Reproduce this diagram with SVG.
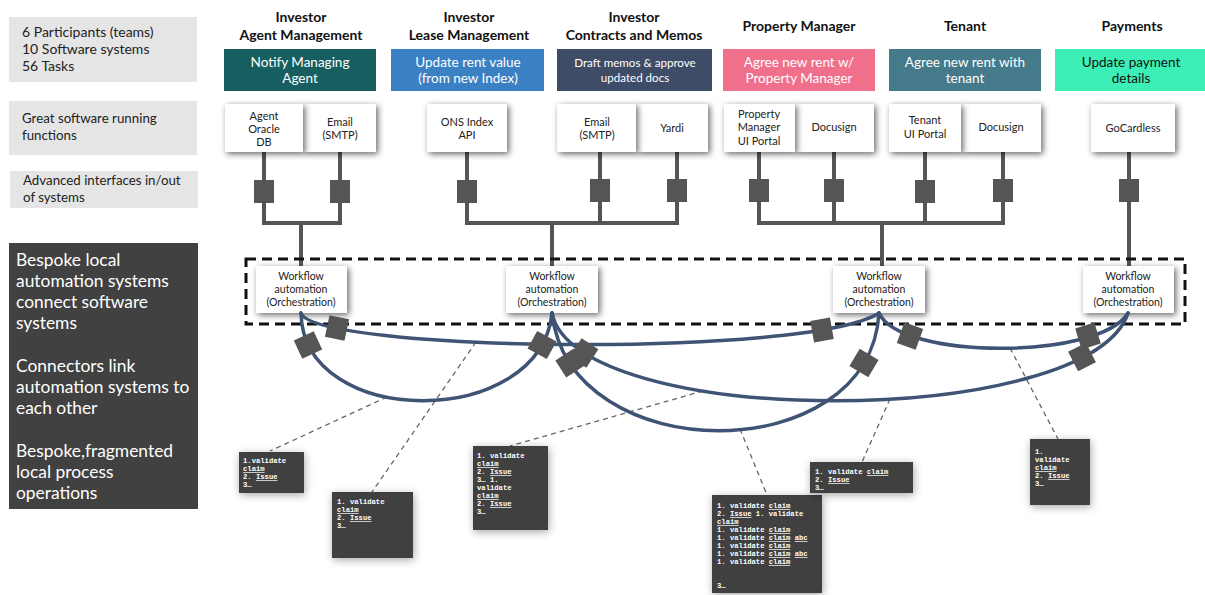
<svg xmlns="http://www.w3.org/2000/svg" width="1205" height="595" viewBox="0 0 1205 595">
  <style>
    .head { font-family: Lato, "Liberation Sans", sans-serif; font-weight: bold; font-size: 14px; fill: #111; text-anchor: middle; }
    .task { font-family: Lato, "Liberation Sans", sans-serif; font-size: 13.5px; fill: #fff; text-anchor: middle; }
    .sw { font-family: Lato, "Liberation Sans", sans-serif; font-size: 11px; fill: #222; text-anchor: middle; }
    .wf { font-family: Lato, "Liberation Sans", sans-serif; font-size: 10.5px; fill: #222; text-anchor: middle; }
    .side { font-family: Lato, "Liberation Sans", sans-serif; font-size: 13.3px; fill: #222; }
    .dark { font-family: Lato, "Liberation Sans", sans-serif; font-size: 17.4px; fill: #fff; }
    .note { font-family: "Liberation Mono", "DejaVu Sans Mono", monospace; font-size: 7.2px; fill: #fff; font-weight: bold; }
    .u { text-decoration: underline; }
    .swbox { fill: #fff; filter: url(#shadow); }
    .pipe { fill: none; stroke: #555; stroke-width: 4; }
    .link { fill: none; stroke: #3f5475; stroke-width: 3.5; stroke-linecap: round; }
    .call { fill: none; stroke: #666; stroke-width: 1.3; stroke-dasharray: 5 4; }
    .notebox { fill: #414141; filter: url(#glow); }
  </style>
  <defs>
    <filter id="shadow" x="-20%" y="-20%" width="150%" height="150%">
      <feDropShadow dx="2" dy="2" stdDeviation="3.2" flood-color="#000" flood-opacity="0.6"/>
    </filter>
    <filter id="glow" x="-30%" y="-30%" width="160%" height="160%">
      <feDropShadow dx="1" dy="2" stdDeviation="4" flood-color="#000" flood-opacity="0.35"/>
    </filter>
    <rect id="plug" x="-10" y="-11" width="20" height="22" fill="#555"/>
    <rect id="vplug" x="-10" y="-12" width="20" height="23" fill="#555"/>
  </defs>

  <!-- left legend column -->
  <g id="legend-counts">
    <rect x="9" y="17" width="188" height="65" fill="#e5e5e5"/>
    <text class="side" x="22" y="37" style="font-size:14px">6 Participants (teams)</text>
    <text class="side" x="22" y="54" style="font-size:14px">10 Software systems</text>
    <text class="side" x="22" y="71" style="font-size:14px">56 Tasks</text>
  </g>
  <g id="legend-software">
    <rect x="9" y="101" width="188" height="54" fill="#e5e5e5"/>
    <text class="side" x="22" y="123">Great software running</text>
    <text class="side" x="22" y="140">functions</text>
  </g>
  <g id="legend-interfaces">
    <rect x="10" y="171" width="188" height="37" fill="#e5e5e5"/>
    <text class="side" x="23" y="185">Advanced interfaces in/out</text>
    <text class="side" x="23" y="202">of systems</text>
  </g>
  <g id="legend-automation">
    <rect x="9" y="243" width="189" height="266" fill="#414141"/>
    <text class="dark" x="16" y="266">Bespoke local</text>
    <text class="dark" x="16" y="287">automation systems</text>
    <text class="dark" x="16" y="308">connect software</text>
    <text class="dark" x="16" y="329">systems</text>
    <text class="dark" x="16" y="372">Connectors link</text>
    <text class="dark" x="16" y="393">automation systems to</text>
    <text class="dark" x="16" y="414">each other</text>
    <text class="dark" x="16" y="457">Bespoke,fragmented</text>
    <text class="dark" x="16" y="478">local process</text>
    <text class="dark" x="16" y="499">operations</text>
  </g>

  <!-- participant headers and tasks -->
  <g id="team-agent">
    <text class="head" x="301" y="22">Investor</text>
    <text class="head" x="301" y="40">Agent Management</text>
    <rect x="224" y="49" width="152" height="42" fill="#175e60"/>
    <text class="task" x="300" y="67">Notify Managing</text>
    <text class="task" x="300" y="83">Agent</text>
  </g>
  <g id="team-lease">
    <text class="head" x="469" y="22">Investor</text>
    <text class="head" x="469" y="40">Lease Management</text>
    <rect x="391" y="49" width="153" height="42" fill="#3b80c3"/>
    <text class="task" x="468" y="67">Update rent value</text>
    <text class="task" x="468" y="83">(from new Index)</text>
  </g>
  <g id="team-contracts">
    <text class="head" x="634" y="22">Investor</text>
    <text class="head" x="634" y="40">Contracts and Memos</text>
    <rect x="557" y="49" width="155" height="42" fill="#3e4c68"/>
    <text class="task" x="635" y="67" style="font-size:11.6px">Draft memos &amp; approve</text>
    <text class="task" x="635" y="82" style="font-size:11.6px">updated docs</text>
  </g>
  <g id="team-property">
    <text class="head" x="799" y="31">Property Manager</text>
    <rect x="723" y="49" width="152" height="42" fill="#f0708c"/>
    <text class="task" x="799" y="67">Agree new rent w/</text>
    <text class="task" x="799" y="83">Property Manager</text>
  </g>
  <g id="team-tenant">
    <text class="head" x="965" y="31">Tenant</text>
    <rect x="889" y="49" width="152" height="42" fill="#447a89"/>
    <text class="task" x="965" y="67">Agree new rent with</text>
    <text class="task" x="965" y="83">tenant</text>
  </g>
  <g id="team-payments">
    <text class="head" x="1132" y="31">Payments</text>
    <rect x="1055" y="49" width="150" height="42" fill="#3cefb6"/>
    <text class="task" x="1131" y="67" style="fill:#111">Update payment</text>
    <text class="task" x="1131" y="83" style="fill:#111">details</text>
  </g>

  <!-- interface pipes: software to automation -->
  <g id="pipes">
    <path class="pipe" d="M264,152 V223 H340 V152 M301,223 V266"/>
    <path class="pipe" d="M467,152 V223 H677 V152 M600,152 V223 M552,223 V266"/>
    <path class="pipe" d="M759,152 V223 H1003 V152 M834,152 V223 M925,152 V223 M882,223 V266"/>
    <path class="pipe" d="M1129,152 V266"/>
    <use href="#vplug" x="264" y="192"/>
    <use href="#vplug" x="340" y="192"/>
    <use href="#vplug" x="467" y="192"/>
    <use href="#vplug" x="600" y="191"/>
    <use href="#vplug" x="677" y="191"/>
    <use href="#vplug" x="759" y="191"/>
    <use href="#vplug" x="834" y="191"/>
    <use href="#vplug" x="925" y="192"/>
    <use href="#vplug" x="1003" y="191"/>
    <use href="#vplug" x="1129" y="191"/>
  </g>

  <!-- software systems -->
  <g id="sw-agent">
    <rect class="swbox" x="303" y="104" width="73" height="48"/>
    <rect class="swbox" x="225" y="104" width="78" height="48"/>
    <text class="sw" x="264" y="120">Agent</text>
    <text class="sw" x="264" y="133">Oracle</text>
    <text class="sw" x="264" y="146">DB</text>
    <text class="sw" x="340" y="126">Email</text>
    <text class="sw" x="340" y="139">(SMTP)</text>
  </g>
  <g id="sw-lease">
    <rect class="swbox" x="427" y="104" width="80" height="48"/>
    <text class="sw" x="467" y="126">ONS Index</text>
    <text class="sw" x="467" y="139">API</text>
  </g>
  <g id="sw-contracts">
    <rect class="swbox" x="636" y="104" width="72" height="48"/>
    <rect class="swbox" x="557" y="104" width="79" height="48"/>
    <text class="sw" x="597" y="126">Email</text>
    <text class="sw" x="597" y="139">(SMTP)</text>
    <text class="sw" x="672" y="132">Yardi</text>
  </g>
  <g id="sw-property">
    <rect class="swbox" x="795" y="104" width="79" height="48"/>
    <rect class="swbox" x="724" y="104" width="71" height="48"/>
    <text class="sw" x="759" y="118">Property</text>
    <text class="sw" x="759" y="131">Manager</text>
    <text class="sw" x="759" y="145">UI Portal</text>
    <text class="sw" x="834" y="131">Docusign</text>
  </g>
  <g id="sw-tenant">
    <rect class="swbox" x="961" y="104" width="80" height="48"/>
    <rect class="swbox" x="889" y="104" width="72" height="48"/>
    <text class="sw" x="925" y="124">Tenant</text>
    <text class="sw" x="925" y="138">UI Portal</text>
    <text class="sw" x="1001" y="131">Docusign</text>
  </g>
  <g id="sw-payments">
    <rect class="swbox" x="1091" y="104" width="84" height="48"/>
    <text class="sw" x="1133" y="132">GoCardless</text>
  </g>

  <!-- automation layer boundary -->
  <rect id="automation-layer" x="246" y="259" width="939" height="65" fill="none" stroke="#111" stroke-width="3" stroke-dasharray="10 6"/>

  <!-- workflow automation nodes -->
  <g id="wf-1">
    <rect class="swbox" x="256" y="266" width="91" height="47"/>
    <text class="wf" x="301" y="280">Workflow</text>
    <text class="wf" x="301" y="293">automation</text>
    <text class="wf" x="301" y="306">(Orchestration)</text>
  </g>
  <g id="wf-2">
    <rect class="swbox" x="506" y="266" width="92" height="47"/>
    <text class="wf" x="552" y="280">Workflow</text>
    <text class="wf" x="552" y="293">automation</text>
    <text class="wf" x="552" y="306">(Orchestration)</text>
  </g>
  <g id="wf-3">
    <rect class="swbox" x="833" y="266" width="92" height="47"/>
    <text class="wf" x="879" y="280">Workflow</text>
    <text class="wf" x="879" y="293">automation</text>
    <text class="wf" x="879" y="306">(Orchestration)</text>
  </g>
  <g id="wf-4">
    <rect class="swbox" x="1083" y="266" width="91" height="47"/>
    <text class="wf" x="1128" y="280">Workflow</text>
    <text class="wf" x="1128" y="293">automation</text>
    <text class="wf" x="1128" y="306">(Orchestration)</text>
  </g>

  <!-- callout leaders to local process notes -->
  <g id="callouts">
    <path class="call" d="M387,397 L270,451"/>
    <path class="call" d="M476,342 L372,492"/>
    <path class="call" d="M703,391 L510,446"/>
    <path class="call" d="M740,429 L767,495"/>
    <path class="call" d="M890,399 L862,462"/>
    <path class="call" d="M1010,348 L1058,439"/>
  </g>

  <!-- connectors between automation systems -->
  <g id="connectors">
    <path class="link" d="M301,313 C315,352 810,358 879,313"/>
    <path class="link" d="M301,313 C303,430 540,430 552,313"/>
    <path class="link" d="M552,313 C575,430 1090,430 1128,313"/>
    <path class="link" d="M552,313 C570,470 870,470 879,313"/>
    <path class="link" d="M879,313 C900,360 1100,360 1128,313"/>
    <use href="#plug" transform="translate(337,328) rotate(12)"/>
    <use href="#plug" transform="translate(822,330) rotate(-10)"/>
    <use href="#plug" transform="translate(308,345) rotate(65)"/>
    <use href="#plug" transform="translate(542,345) rotate(-61)"/>
    <use href="#plug" transform="translate(584,353) rotate(33)"/>
    <use href="#plug" transform="translate(1082,357) rotate(-27)"/>
    <use href="#plug" transform="translate(570,363) rotate(57)"/>
    <use href="#plug" transform="translate(864,363) rotate(-59)"/>
    <use href="#plug" transform="translate(910,336) rotate(20)"/>
    <use href="#plug" transform="translate(1088,336) rotate(-17)"/>
  </g>

  <!-- local process notes -->
  <g id="note-1">
    <rect class="notebox" x="239" y="452" width="65" height="41"/>
    <text class="note" x="243" y="463">1.validate</text>
    <text class="note" x="243" y="471"><tspan class="u">claim</tspan></text>
    <text class="note" x="243" y="479">2. <tspan class="u">Issue</tspan></text>
    <text class="note" x="243" y="487">3…</text>
  </g>
  <g id="note-2">
    <rect class="notebox" x="332" y="492" width="81" height="66"/>
    <text class="note" x="337" y="504">1. validate</text>
    <text class="note" x="337" y="512"><tspan class="u">claim</tspan></text>
    <text class="note" x="337" y="520">2. <tspan class="u">Issue</tspan></text>
    <text class="note" x="337" y="528">3…</text>
  </g>
  <g id="note-3">
    <rect class="notebox" x="473" y="446" width="75" height="84"/>
    <text class="note" x="477" y="458">1. validate</text>
    <text class="note" x="477" y="466"><tspan class="u">claim</tspan></text>
    <text class="note" x="477" y="474">2. <tspan class="u">Issue</tspan></text>
    <text class="note" x="477" y="482">3… 1.</text>
    <text class="note" x="477" y="490">validate</text>
    <text class="note" x="477" y="498"><tspan class="u">claim</tspan></text>
    <text class="note" x="477" y="506">2. <tspan class="u">Issue</tspan></text>
    <text class="note" x="477" y="514">3…</text>
  </g>
  <g id="note-4">
    <rect class="notebox" x="712" y="495" width="110" height="98"/>
    <text class="note" x="717" y="508">1. validate <tspan class="u">claim</tspan></text>
    <text class="note" x="717" y="516">2. <tspan class="u">Issue</tspan> 1. validate</text>
    <text class="note" x="717" y="524"><tspan class="u">claim</tspan></text>
    <text class="note" x="717" y="532">1. validate <tspan class="u">claim</tspan></text>
    <text class="note" x="717" y="540">1. validate <tspan class="u">claim</tspan> <tspan class="u">abc</tspan></text>
    <text class="note" x="717" y="548">1. validate <tspan class="u">claim</tspan></text>
    <text class="note" x="717" y="556">1. validate <tspan class="u">claim</tspan> <tspan class="u">abc</tspan></text>
    <text class="note" x="717" y="564">1. validate <tspan class="u">claim</tspan></text>
    <text class="note" x="717" y="588">3…</text>
  </g>
  <g id="note-5">
    <rect class="notebox" x="810" y="462" width="103" height="31"/>
    <text class="note" x="815" y="474">1. validate <tspan class="u">claim</tspan></text>
    <text class="note" x="815" y="482">2. <tspan class="u">Issue</tspan></text>
    <text class="note" x="815" y="490">3…</text>
  </g>
  <g id="note-6">
    <rect class="notebox" x="1030" y="439" width="60" height="66"/>
    <text class="note" x="1035" y="454">1.</text>
    <text class="note" x="1035" y="462">validate</text>
    <text class="note" x="1035" y="470"><tspan class="u">claim</tspan></text>
    <text class="note" x="1035" y="478">2. <tspan class="u">Issue</tspan></text>
    <text class="note" x="1035" y="486">3…</text>
  </g>
</svg>
